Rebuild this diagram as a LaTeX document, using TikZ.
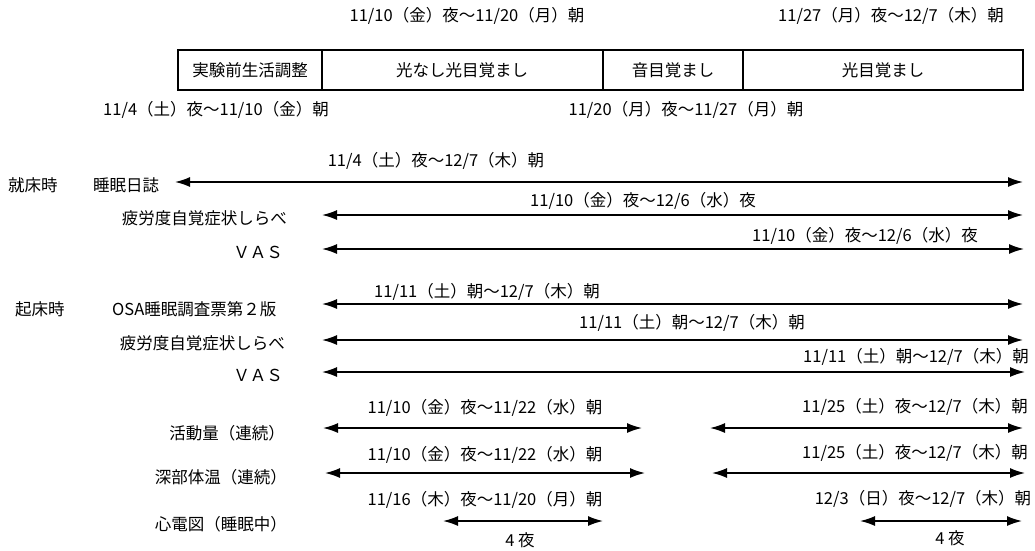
\documentclass[tikz,border=0pt]{standalone}
\usepackage{fontspec}
\newfontfamily\jp{Noto Sans CJK JP}
\usetikzlibrary{arrows.meta}
\begin{document}
\begin{tikzpicture}[x=1pt,y=-1pt,
  txt/.style={font=\jp\fontsize{16.5}{19}\selectfont, inner sep=0pt},
  span/.style={line width=1.5pt, {Latex[length=15pt,width=10pt]}-{Latex[length=15pt,width=10pt]}},
  frame/.style={line width=2.6pt}]
\useasboundingbox (0,0) rectangle (1035,550);
% phase bar
\draw[frame] (178,50) rectangle (1023,90);
\draw[frame] (322,50) -- (322,90) (603,50) -- (603,90) (743,50) -- (743,90);
\node[txt] (p1) at (250,70) {実験前生活調整};
\node[txt] (p2) at (462,70) {光なし光目覚まし};
\node[txt] (p3) at (673,70) {音目覚まし};
\node[txt] (p4) at (883,70) {光目覚まし};
\node[txt] (t1) at (467,16) {11/10（金）夜～11/20（月）朝};
\node[txt] (t2) at (891,16) {11/27（月）夜～12/7（木）朝};
\node[txt] (b1) at (216,110) {11/4（土）夜～11/10（金）朝};
\node[txt] (b2) at (686,110) {11/20（月）夜～11/27（月）朝};
% left labels
\node[txt,anchor=west] (g1) at (8,185) {就床時};
\node[txt,anchor=west] (l1) at (93,185) {睡眠日誌};
\node[txt,anchor=east] (l2) at (287,218) {疲労度自覚症状しらべ};
\node[txt,anchor=east] (l3) at (283,252) {ＶＡＳ};
\node[txt,anchor=west] (g2) at (15,309) {起床時};
\node[txt,anchor=west] (l4) at (112,309) {OSA睡眠調査票第２版};
\node[txt,anchor=east] (l5) at (285,343) {疲労度自覚症状しらべ};
\node[txt,anchor=east] (l6) at (283,375) {ＶＡＳ};
\node[txt,anchor=east] (l7) at (285,433) {活動量（連続）};
\node[txt,anchor=east] (l8) at (287,477) {深部体温（連続）};
\node[txt,anchor=east] (l9) at (287,524) {心電図（睡眠中）};
% spans
\draw[span] (175,182) coordinate (s1) -- (1023,182) coordinate (e1);
\node[txt] (d1) at (436,161) {11/4（土）夜～12/7（木）朝};
\draw[span] (322,215) coordinate (s2) -- (1023,215) coordinate (e2);
\node[txt] (d2) at (643,201) {11/10（金）夜～12/6（水）夜};
\draw[span] (322,249) coordinate (s3) -- (1024,249) coordinate (e3);
\node[txt] (d3) at (865,236) {11/10（金）夜～12/6（水）夜};
\draw[span] (322,304) coordinate (s4) -- (1023,304) coordinate (e4);
\node[txt] (d4) at (487,292) {11/11（土）朝～12/7（木）朝};
\draw[span] (322,340) coordinate (s5) -- (1023,340) coordinate (e5);
\node[txt] (d5) at (692,323) {11/11（土）朝～12/7（木）朝};
\draw[span] (322,372) coordinate (s6) -- (1025,372) coordinate (e6);
\node[txt] (d6) at (916,357) {11/11（土）朝～12/7（木）朝};
\draw[span] (323,428) coordinate (s7) -- (642,428) coordinate (e7);
\node[txt] (d7) at (485,408) {11/10（金）夜～11/22（水）朝};
\draw[span] (710,428) coordinate (s8) -- (1023,428) coordinate (e8);
\node[txt] (d8) at (915,407) {11/25（土）夜～12/7（木）朝};
\draw[span] (325,473) coordinate (s9) -- (645,473) coordinate (e9);
\node[txt] (d9) at (485,455) {11/10（金）夜～11/22（水）朝};
\draw[span] (712,473) coordinate (s10) -- (1025,473) coordinate (e10);
\node[txt] (d10) at (915,453) {11/25（土）夜～12/7（木）朝};
\draw[span] (443,521) coordinate (s11) -- (603,521) coordinate (e11);
\node[txt] (d11) at (485,500) {11/16（木）夜～11/20（月）朝};
\node[txt] (n11) at (520,540) {4 夜};
\draw[span] (860,521) coordinate (s12) -- (1022,521) coordinate (e12);
\node[txt] (d12) at (923,499) {12/3（日）夜～12/7（木）朝};
\node[txt] (n12) at (950,538) {4 夜};
\end{tikzpicture}
\end{document}
